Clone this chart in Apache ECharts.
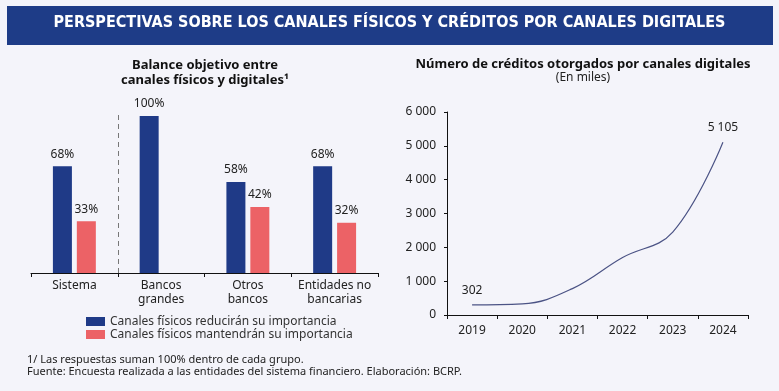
<!DOCTYPE html>
<html><head><meta charset="utf-8">
<script src="https://cdn.jsdelivr.net/npm/echarts@6/dist/echarts.min.js"></script>
<style>html,body{margin:0;padding:0;background:#f4f4fa;}#c{width:779px;height:391px;}</style>
</head><body><div id="c"></div>
<script>
const mainTitle = 'PERSPECTIVAS SOBRE LOS CANALES FÍSICOS Y CRÉDITOS POR CANALES DIGITALES';
const leftTitle = 'Balance objetivo entre\ncanales físicos y digitales¹';
const rightTitle = 'Número de créditos otorgados por canales digitales';
const rightSubtitle = '(En miles)';
const footnotes = '1/ Las respuestas suman 100% dentro de cada grupo.\nFuente: Encuesta realizada a las entidades del sistema financiero. Elaboración: BCRP.';
const barCategories = ['Sistema', 'Bancos\ngrandes', 'Otros\nbancos', 'Entidades no\nbancarias'];
const seriesNames = ['Canales físicos reducirán su importancia', 'Canales físicos mantendrán su importancia'];
const reduciran = [68, 100, 58, 68];
const mantendran = [33, null, 42, 32];
const separatorAfter = 1; // dashed divider after the first category
const years = ['2019', '2020', '2021', '2022', '2023', '2024'];
const creditos = [302, 330, 780, 1700, 2450, 5105];
const yMin = 0, yMax = 6000, yStep = 1000;

const FONT = 'Noto Sans';
const BLUE = '#1f3a87', RED = '#ec6266', TXT = '#222';
const fmt = v => String(v).replace(/\B(?=(\d{3})+(?!\d))/g, ' ');

const chart = echarts.init(document.getElementById('c'), null, {renderer: 'canvas'});
chart.setOption({
  backgroundColor: '#f4f4fa',
  textStyle: {fontFamily: FONT},
  graphic: [{
    type: 'rect', left: 7, top: 6, shape: {width: 766, height: 39},
    style: {fill: '#1e3c87'}, silent: true
  }, {
    type: 'text', left: 'center', top: 15,
    style: {text: mainTitle, fill: '#fff', font: 'bold 16px "DejaVu Sans Condensed"'}
  }],
  title: [{
    text: leftTitle, left: 200, top: 53, textAlign: 'center',
    textStyle: {fontFamily: FONT, fontSize: 13, fontWeight: 'bold', color: '#111', lineHeight: 15}
  }, {
    text: rightTitle, subtext: rightSubtitle, left: 578, top: 53, textAlign: 'center', itemGap: 1,
    textStyle: {fontFamily: FONT, fontSize: 13, fontWeight: 'bold', color: '#111'},
    subtextStyle: {fontFamily: FONT, fontSize: 12, color: '#222'}
  }, {
    text: footnotes, left: 22, top: 349,
    textStyle: {fontFamily: FONT, fontSize: 11, fontWeight: 'normal', color: '#222', lineHeight: 12}
  }],
  legend: {
    data: seriesNames, orient: 'vertical', left: 81, top: 310,
    itemWidth: 19, itemHeight: 9, itemGap: 0, icon: 'rect',
    textStyle: {fontFamily: FONT, fontSize: 12, color: '#333', lineHeight: 13}
  },
  grid: [
    {left: 31, right: 401, top: 111, bottom: 118},
    {left: 447, right: 31, top: 112, bottom: 76}
  ],
  xAxis: [{
    type: 'category', gridIndex: 0, data: barCategories,
    axisLine: {lineStyle: {color: '#111', width: 1}},
    axisTick: {show: true, length: 4, lineStyle: {color: '#111'}},
    axisLabel: {interval: 0, color: TXT, fontSize: 12, lineHeight: 14, margin: 6, fontFamily: FONT}
  }, {
    type: 'category', gridIndex: 1, data: years,
    axisLine: {lineStyle: {color: '#111', width: 1}},
    axisTick: {show: true, length: 4, lineStyle: {color: '#111'}},
    axisLabel: {interval: 0, color: TXT, fontSize: 12, margin: 10, fontFamily: FONT}
  }, {
    type: 'value', gridIndex: 0, min: 0, max: barCategories.length, show: false
  }],
  yAxis: [{
    type: 'value', gridIndex: 0, min: 0, max: 103.2, show: false
  }, {
    type: 'value', gridIndex: 1, min: yMin, max: yMax, interval: yStep,
    axisLine: {show: true, lineStyle: {color: '#111', width: 1}},
    axisTick: {show: true, length: 3, lineStyle: {color: '#111'}},
    axisLabel: {color: TXT, fontSize: 12, margin: 11, fontFamily: FONT, formatter: v => fmt(v)},
    splitLine: {show: false}
  }],
  series: [{
    name: seriesNames[0], type: 'bar', xAxisIndex: 0, yAxisIndex: 0, data: reduciran,
    barWidth: 19, barGap: '26%', itemStyle: {color: BLUE},
    label: {show: true, position: 'top', distance: 6, formatter: '{c}%', color: TXT, fontSize: 12, fontFamily: FONT}
  }, {
    name: seriesNames[1], type: 'bar', xAxisIndex: 0, yAxisIndex: 0, data: mantendran,
    barWidth: 19, barGap: '26%', itemStyle: {color: RED},
    label: {show: true, position: 'top', distance: 6, formatter: '{c}%', color: TXT, fontSize: 12, fontFamily: FONT}
  }, {
    name: 'separador', type: 'line', xAxisIndex: 2, yAxisIndex: 0,
    data: [[separatorAfter, 0]], showSymbol: false, symbol: 'none', lineStyle: {opacity: 0},
    silent: true, tooltip: {show: false},
    markLine: {
      silent: true, symbol: ['none', 'none'], label: {show: false},
      lineStyle: {color: '#777', type: [5, 4], width: 1},
      data: [{xAxis: separatorAfter}]
    }
  }, {
    name: 'Créditos', type: 'line', xAxisIndex: 1, yAxisIndex: 1, data: creditos,
    smooth: 0.4, symbol: 'circle', symbolSize: 1, showSymbol: true,
    itemStyle: {color: 'rgba(0,0,0,0)'}, lineStyle: {color: '#4b5385', width: 1.2},
    label: {show: true, position: 'top', distance: 8, color: TXT, fontSize: 12, fontFamily: FONT,
      formatter: p => (p.dataIndex === 0 || p.dataIndex === creditos.length - 1) ? fmt(p.value) : ''}
  }]
});
</script></body></html>
